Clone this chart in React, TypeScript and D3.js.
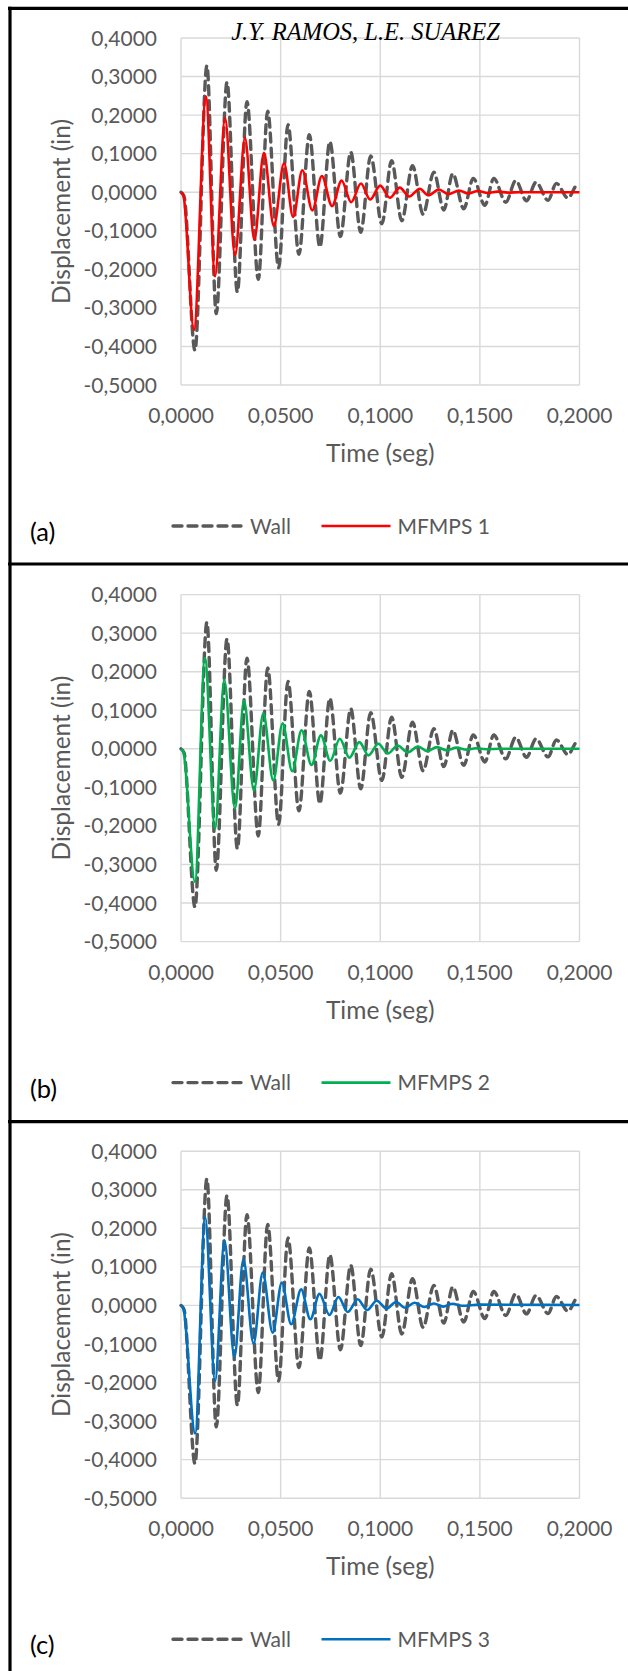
import React from 'react';
import * as d3 from 'd3';

// axis ticks
const timeTicks = [0, 0.05, 0.1, 0.15, 0.2];
const dispTicks = [-0.5, -0.4, -0.3, -0.2, -0.1, 0, 0.1, 0.2, 0.3, 0.4];

// Wall (dashed) - extrema, same in all three panels
const wallTime = [0, 0.0015, 0.0070, 0.0130, 0.0177, 0.0231, 0.0283, 0.0331, 0.0388, 0.0435, 0.0490, 0.0537,
  0.0592, 0.0644, 0.0697, 0.0747, 0.0800, 0.0852, 0.0902, 0.0952, 0.1008, 0.1057, 0.1108, 0.1162, 0.1215,
  0.1269, 0.1319, 0.1364, 0.1419, 0.1467, 0.1525, 0.1570, 0.1630, 0.1680, 0.1734, 0.1782, 0.1842, 0.1884,
  0.1942, 0.1991, 0.2000];
const wallDisp = [0, -0.010, -0.410, 0.328, -0.315, 0.285, -0.259, 0.235, -0.226, 0.210, -0.196, 0.175,
  -0.161, 0.149, -0.142, 0.131, -0.115, 0.104, -0.104, 0.094, -0.082, 0.082, -0.074, 0.069, -0.057,
  0.052, -0.046, 0.048, -0.043, 0.036, -0.034, 0.036, -0.026, 0.030, -0.022, 0.026, -0.021, 0.023,
  -0.015, 0.020, 0.019];

// MFMPS 1
const mfmps1Time = [0, 0.0012, 0.0065, 0.0125, 0.0171, 0.0221, 0.0271, 0.0321, 0.0368, 0.0416, 0.0466, 0.0517,
  0.0563, 0.0609, 0.0659, 0.0707, 0.0758, 0.0806, 0.0854, 0.0903, 0.0949, 0.1000, 0.1048, 0.1098, 0.1145,
  0.1199, 0.1240, 0.1295, 0.1341, 0.1396, 0.1441, 0.1490, 0.1540, 0.1590, 0.1640, 0.1700, 0.2000];
const mfmps1Disp = [0, -0.008, -0.357, 0.248, -0.218, 0.193, -0.164, 0.141, -0.123, 0.102, -0.088, 0.075,
  -0.064, 0.057, -0.047, 0.042, -0.036, 0.030, -0.026, 0.0225, -0.019, 0.017, -0.0145, 0.012, -0.011,
  0.009, -0.008, 0.007, -0.005, 0.0044, -0.0034, 0.003, -0.002, 0.0015, -0.001, 0, 0];

// MFMPS 2
const mfmps2Time = [0, 0.0012, 0.0070, 0.0120, 0.0171, 0.0217, 0.0271, 0.0316, 0.0366, 0.0413, 0.0463, 0.0510,
  0.0558, 0.0605, 0.0655, 0.0702, 0.0749, 0.0797, 0.0845, 0.0895, 0.0941, 0.0990, 0.1038, 0.1088, 0.1137,
  0.1190, 0.1235, 0.1285, 0.1333, 0.1383, 0.1433, 0.1480, 0.1530, 0.1600, 0.2000];
const mfmps2Disp = [0, -0.008, -0.345, 0.236, -0.207, 0.179, -0.155, 0.125, -0.108, 0.092, -0.082, 0.066,
  -0.058, 0.048, -0.042, 0.035, -0.031, 0.026, -0.023, 0.0175, -0.017, 0.013, -0.012, 0.0087, -0.009,
  0.006, -0.006, 0.0045, -0.004, 0.003, -0.002, 0.0015, -0.001, 0, 0];

// MFMPS 3
const mfmps3Time = [0, 0.0012, 0.0071, 0.0121, 0.0171, 0.0218, 0.0268, 0.0313, 0.0364, 0.0410, 0.0460, 0.0506,
  0.0553, 0.0603, 0.0649, 0.0695, 0.0745, 0.0790, 0.0837, 0.0887, 0.0934, 0.0982, 0.1032, 0.1079, 0.1125,
  0.1172, 0.1222, 0.1268, 0.1316, 0.1362, 0.1410, 0.1500, 0.2000];
const mfmps3Disp = [0, -0.008, -0.332, 0.229, -0.196, 0.168, -0.134, 0.119, -0.099, 0.085, -0.071, 0.059,
  -0.049, 0.0415, -0.036, 0.030, -0.025, 0.022, -0.017, 0.016, -0.012, 0.012, -0.008, 0.009, -0.006,
  0.007, -0.004, 0.005, -0.003, 0.0045, -0.001, 0.002, 0.001];

const panels = [
  { tag: '(a)', name: 'MFMPS 1', color: '#ff0000', time: mfmps1Time, disp: mfmps1Disp },
  { tag: '(b)', name: 'MFMPS 2', color: '#00b050', time: mfmps2Time, disp: mfmps2Disp },
  { tag: '(c)', name: 'MFMPS 3', color: '#0070c0', time: mfmps3Time, disp: mfmps3Disp },
];

const W = 628;
const H = 1671;
const STEP = 556.6;
const FONT = 'Lato, "Open Sans", sans-serif';
const GREY = '#595959';
const DASH = '9 6';

const fmt = (v: number) => (Math.abs(v) < 1e-9 ? 0 : v).toFixed(4).replace('.', ',');

const x = d3.scaleLinear().domain([0, 0.2]).range([181, 579.5]);

const Panel = ({ p, i }: { p: typeof panels[number]; i: number }) => {
  const off = i * STEP;
  const y = d3.scaleLinear().domain([-0.5, 0.4]).range([385 + off, 38 + off]);
  const mk = (time: number[]) =>
    d3.line<number>().x((_, k) => x(time[k])).y(d => y(d)).curve(d3.curveMonotoneX);
  const [x0, x1] = x.range();
  const yb = y(-0.5);
  return (
    <g>
      {dispTicks.map(v => (
        <line key={'h' + v} x1={x0} x2={x1} y1={y(v)} y2={y(v)} stroke="#d9d9d9" strokeWidth={1.4} />
      ))}
      {timeTicks.map(t => (
        <line key={'v' + t} x1={x(t)} x2={x(t)} y1={y(0.4)} y2={yb} stroke="#d9d9d9" strokeWidth={1.4} />
      ))}
      {dispTicks.map(v => (
        <text key={'yl' + v} x={157} y={y(v)} dy="0.36em" textAnchor="end" fontSize={21} fill={GREY} fontFamily={FONT}>
          {fmt(v)}
        </text>
      ))}
      {timeTicks.map(t => (
        <text key={'xl' + t} x={x(t)} y={yb + 38} textAnchor="middle" fontSize={21} fill={GREY} fontFamily={FONT}>
          {fmt(t)}
        </text>
      ))}
      <text x={(x0 + x1) / 2} y={yb + 77} textAnchor="middle" fontSize={24.5} fill={GREY} fontFamily={FONT}>
        Time (seg)
      </text>
      <text transform={`translate(70,${(y(0.4) + yb) / 2}) rotate(-90)`} textAnchor="middle" fontSize={24.5} fill={GREY} fontFamily={FONT}>
        Displacement (in)
      </text>
      <path d={mk(wallTime)(wallDisp) ?? ''} fill="none" stroke={GREY} strokeWidth={3.4}
        strokeDasharray={DASH} strokeLinecap="round" />
      <path d={mk(p.time)(p.disp) ?? ''} fill="none" stroke={p.color} strokeWidth={2.6} />
      {/* legend */}
      <line x1={173} x2={241} y1={yb + 141} y2={yb + 141} stroke={GREY} strokeWidth={3.4}
        strokeDasharray={DASH} strokeLinecap="round" />
      <text x={250} y={yb + 148.5} fontSize={21} fill={GREY} fontFamily={FONT}>Wall</text>
      <line x1={321.5} x2={390.5} y1={yb + 141} y2={yb + 141} stroke={p.color} strokeWidth={2.6} />
      <text x={397.5} y={yb + 148.5} fontSize={21} fill={GREY} fontFamily={FONT}>{p.name}</text>
      <text x={30} y={yb + 156} fontSize={25.5} fill="#000" fontFamily={FONT}>{p.tag}</text>
    </g>
  );
};

export default function App() {
  return (
    <svg width={W} height={H} style={{ position: 'absolute', left: 0, top: 0, background: '#fff' }}>
      <rect width={W} height={H} fill="#fff" />
      {panels.map((p, i) => <Panel key={p.tag} p={p} i={i} />)}
      <text x={365.5} y={40} textAnchor="middle" fontSize={24.5} fontStyle="italic"
        fontFamily='"Liberation Serif", "Times New Roman", serif' fill="#000">
        J.Y. RAMOS, L.E. SUAREZ
      </text>
      {/* panel frames */}
      <line x1={8} x2={W} y1={8.3} y2={8.3} stroke="#000" strokeWidth={3.2} />
      <line x1={8} x2={W} y1={564} y2={564} stroke="#000" strokeWidth={3.2} />
      <line x1={8} x2={W} y1={1121.7} y2={1121.7} stroke="#000" strokeWidth={3.2} />
      <line x1={10} x2={10} y1={6.7} y2={H} stroke="#000" strokeWidth={3.2} />
    </svg>
  );
}
